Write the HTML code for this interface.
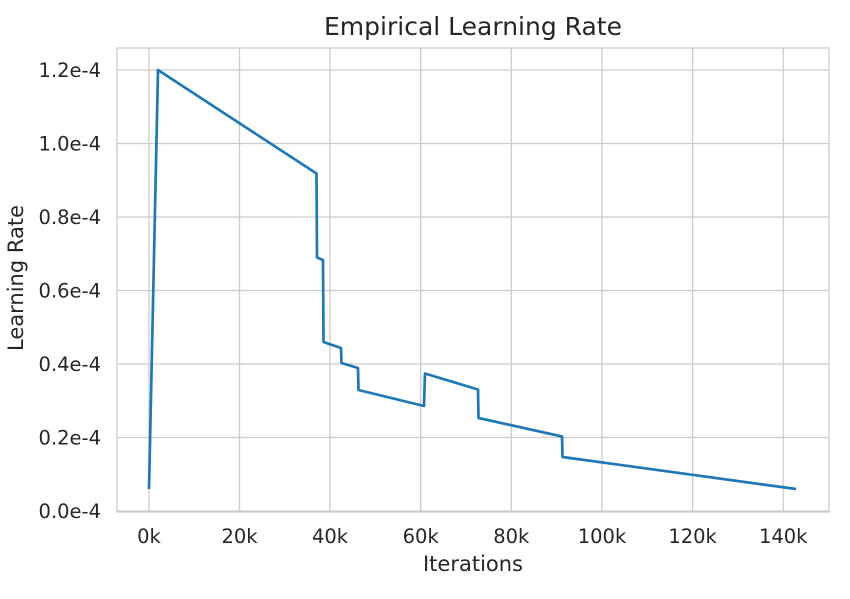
<!DOCTYPE html>
<html><head><style>body{margin:0;background:#fff}</style></head><body>
<svg width="850" height="594" xmlns="http://www.w3.org/2000/svg" font-family="DejaVu Sans, Liberation Sans, sans-serif" fill="#262626">
<rect width="850" height="594" fill="#fff"/>
<g stroke="#cccccc" stroke-width="1.3">
<line x1="149" y1="48" x2="149" y2="512"/><line x1="239.5" y1="48" x2="239.5" y2="512"/><line x1="330" y1="48" x2="330" y2="512"/><line x1="420.7" y1="48" x2="420.7" y2="512"/><line x1="511.3" y1="48" x2="511.3" y2="512"/><line x1="602" y1="48" x2="602" y2="512"/><line x1="692.6" y1="48" x2="692.6" y2="512"/><line x1="783.2" y1="48" x2="783.2" y2="512"/>
<line x1="117" y1="511" x2="829" y2="511"/><line x1="117" y1="437.5" x2="829" y2="437.5"/><line x1="117" y1="364" x2="829" y2="364"/><line x1="117" y1="290.5" x2="829" y2="290.5"/><line x1="117" y1="217" x2="829" y2="217"/><line x1="117" y1="143.5" x2="829" y2="143.5"/><line x1="117" y1="70" x2="829" y2="70"/>
<rect x="117" y="48" width="712" height="464" fill="none"/>
</g>
<polyline fill="none" stroke="#1f77b4" stroke-width="2.7" stroke-linejoin="round" points="149,489 158,70 316.5,173.5 317,257.5 323,260 323.5,342 341,348 341.5,363 358,368 358.5,390 424,406 425,373.5 478,389.5 478.5,418 562,436.5 562.5,457 796,489"/>
<g font-size="19.5" text-anchor="middle">
<text x="149" y="543">0k</text><text x="239.5" y="543">20k</text><text x="330" y="543">40k</text><text x="420.7" y="543">60k</text><text x="511.3" y="543">80k</text><text x="602" y="543">100k</text><text x="692.6" y="543">120k</text><text x="783.2" y="543">140k</text>
<text x="473" y="571" font-size="21">Iterations</text>
<text x="473" y="35" font-size="25">Empirical Learning Rate</text>
</g>
<g font-size="19.5" text-anchor="end">
<text x="101" y="518">0.0e-4</text><text x="101" y="444.5">0.2e-4</text><text x="101" y="371">0.4e-4</text><text x="101" y="297.5">0.6e-4</text><text x="101" y="224">0.8e-4</text><text x="101" y="150.5">1.0e-4</text><text x="101" y="77">1.2e-4</text>
</g>
<text transform="translate(23,278) rotate(-90)" font-size="21" text-anchor="middle">Learning Rate</text>
</svg>
</body></html>
